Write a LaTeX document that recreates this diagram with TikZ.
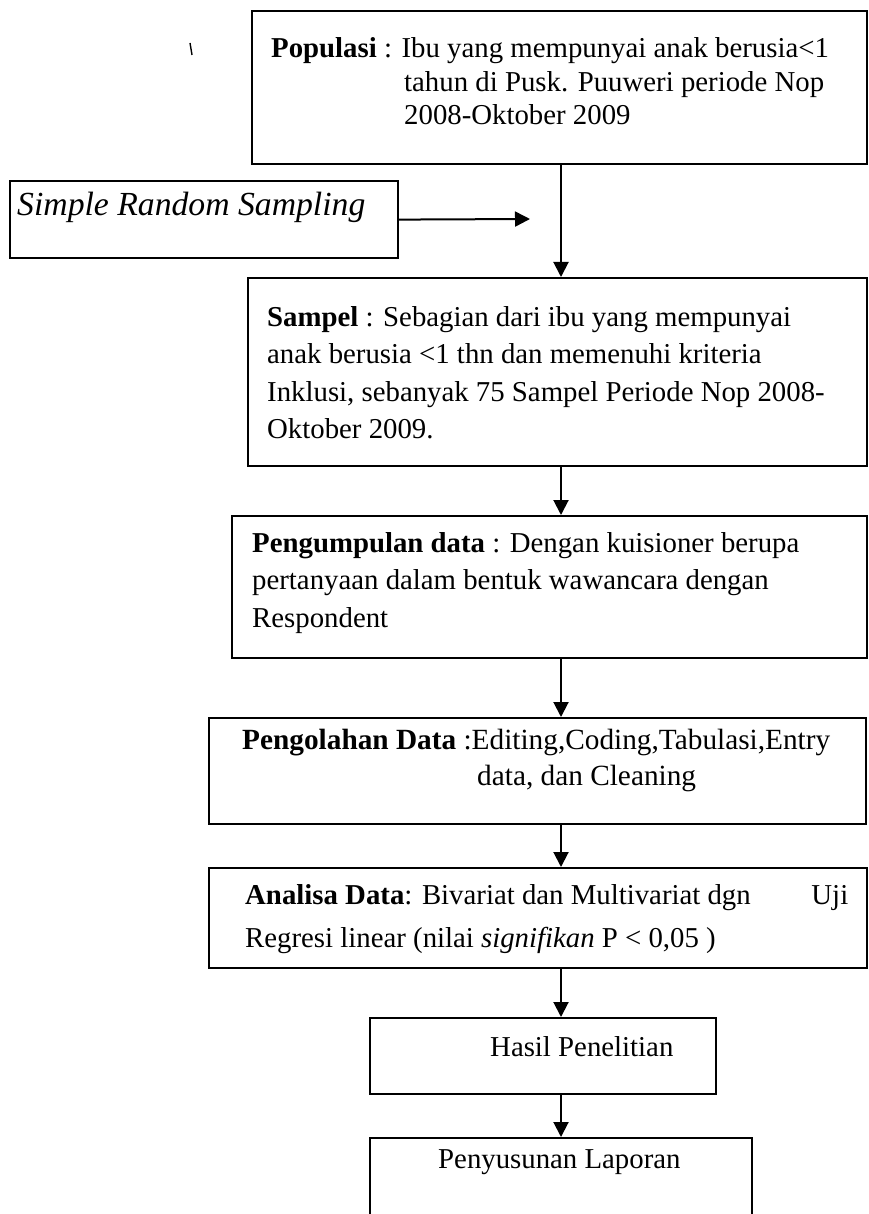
\documentclass[tikz,border=0pt]{standalone}
\usepackage{fontspec}
\setmainfont{Liberation Serif}
\usetikzlibrary{arrows.meta}
\newcommand\fz{\fontsize{28.8}{37.5}\selectfont}
\begin{document}
\begin{tikzpicture}[x=1pt,y=-1pt,
  box/.style={draw, line width=2.2pt, inner sep=0pt, anchor=north west},
  txt/.style={inner sep=0pt, anchor=base west, font=\fz},
  arr/.style={line width=2pt, -{Triangle[length=15pt,width=15pt]}}]
\useasboundingbox (0,0) rectangle (868,1214);
\fill[white] (0,0) rectangle (868,1214);
% stray mark
\draw[line width=1.4pt] (190,43) -- (192,55);
% boxes
\node[box, minimum width=615pt, minimum height=153pt] (pop)   at (251,10)   {};
\node[box, minimum width=388pt, minimum height=77pt]  (srs)   at (9,180)    {};
\node[box, minimum width=619pt, minimum height=188pt] (sam)   at (247,277)  {};
\node[box, minimum width=635pt, minimum height=142pt] (peng)  at (231,515)  {};
\node[box, minimum width=657pt, minimum height=106pt] (olah)  at (208,717)  {};
\node[box, minimum width=658pt, minimum height=100pt] (anal)  at (208,867)  {};
\node[box, minimum width=346pt, minimum height=76pt]  (hasil) at (369,1017) {};
\node[box, minimum width=382pt, minimum height=120pt] (lap)   at (369,1137) {};
% texts
\node[txt, font=\fontsize{28.8}{33.5}\selectfont] (popT) at (271,58) {\parbox[t]{620pt}{\textbf{Populasi} : Ibu yang mempunyai anak berusia<1\\\hspace*{133pt}tahun di Pusk. Puuweri periode Nop\\\hspace*{133pt}2008-Oktober 2009}};
\node[txt, font=\fontsize{33.7}{40}\selectfont\itshape] (srsT) at (17,216) {Simple Random Sampling};
\node[txt] (samT) at (267,326) {\parbox[t]{620pt}{\textbf{Sampel} : Sebagian dari ibu yang mempunyai\\anak berusia <1 thn dan memenuhi kriteria\\Inklusi, sebanyak 75 Sampel Periode Nop 2008-\\Oktober 2009.}};
\node[txt] (pengT) at (252,552) {\parbox[t]{620pt}{\textbf{Pengumpulan data} : Dengan kuisioner berupa\\pertanyaan dalam bentuk wawancara dengan\\Respondent}};
\node[txt, font=\fontsize{29.3}{36}\selectfont] (olahT) at (242,749) {\parbox[t]{620pt}{\textbf{Pengolahan Data} :Editing,Coding,Tabulasi,Entry\\\hspace*{235pt}data, dan Cleaning}};
\node[txt, font=\fontsize{28.8}{43}\selectfont] (analT) at (245,904) {\parbox[t]{603pt}{\textbf{Analisa Data}: Bivariat dan Multivariat dgn\hfill Uji\\Regresi linear (nilai \textit{signifikan} P < 0,05 )}};
\node[txt] (hasilT) at (490,1056) {Hasil Penelitian};
\node[txt] (lapT) at (438,1168) {Penyusunan Laporan};
% connectors
\coordinate (cx) at (561,0);
\coordinate (srsEnd) at (530,219);
\draw[arr] (pop.south -| cx) -- (sam.north -| cx);
\draw[arr] (srs.east) -- (srsEnd);
\draw[arr] (sam.south -| cx) -- (peng.north -| cx);
\draw[arr] (peng.south -| cx) -- (olah.north -| cx);
\draw[arr] (olah.south -| cx) -- (anal.north -| cx);
\draw[arr] (anal.south -| cx) -- (hasil.north -| cx);
\draw[arr] (hasil.south -| cx) -- (lap.north -| cx);
\end{tikzpicture}
\end{document}
